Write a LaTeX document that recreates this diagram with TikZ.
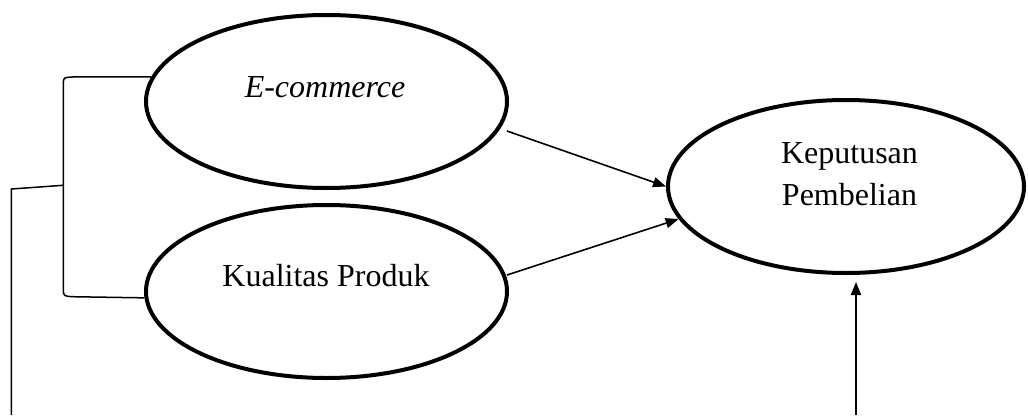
\documentclass[tikz,border=0pt]{standalone}
\usepackage{fontspec}
\setmainfont{Liberation Serif}
\usetikzlibrary{shapes.geometric,arrows.meta,calc}
\begin{document}
\begin{tikzpicture}[x=1pt,y=-1pt,
  oval/.style={ellipse,draw,line width=4pt,minimum width=361pt,minimum height=173pt,inner sep=0pt},
  lbl/.style={font=\fontsize{32}{42.5}\selectfont,anchor=base,inner sep=0pt},
  arr/.style={line width=1.6pt,-{Triangle[length=13pt,width=10pt]}},
  brk/.style={line width=1.5pt}]
\useasboundingbox (0,0) rectangle (1028,415);
\node[oval] (e1) at (326.5,101.5) {};
\node[oval] (e2) at (326.5,291.5) {};
\node[oval,minimum width=356pt] (e3) at (846,186.5) {};
\node[lbl] (t1) at (325,97.7) {\itshape E-commerce};
\node[lbl] (t2) at (326,286.7) {Kualitas Produk};
\node[lbl] (t3) at (849.5,163) {Keputusan};
\node[lbl] (t4) at (849.5,205) {Pembelian};
% arrows
\coordinate (a1) at ($(e1.center)+(180.5,29.5)$);
\coordinate (a2) at ($(e2.center)+(180.5,-16.5)$);
\coordinate (b3) at (856,415);
\draw[arr] (a1) -- (e3.west);
\draw[arr] (a2) -- (e3.191);
\draw[arr,line width=2pt,shorten >=7pt] (b3) -- (b3 |- e3.south);
% bracket
\coordinate (j) at (63.3,185.3);
\coordinate (b0) at (11.3,415);
\draw[brk] (e1.172) -- (72,77) .. controls (64,77.5) .. (63.3,82) -- (63.3,291) .. controls (64,296) .. (72,296.7) -- (e2.182);
\draw[brk] (j) -- (11.3,189) -- (b0);
\end{tikzpicture}
\end{document}
